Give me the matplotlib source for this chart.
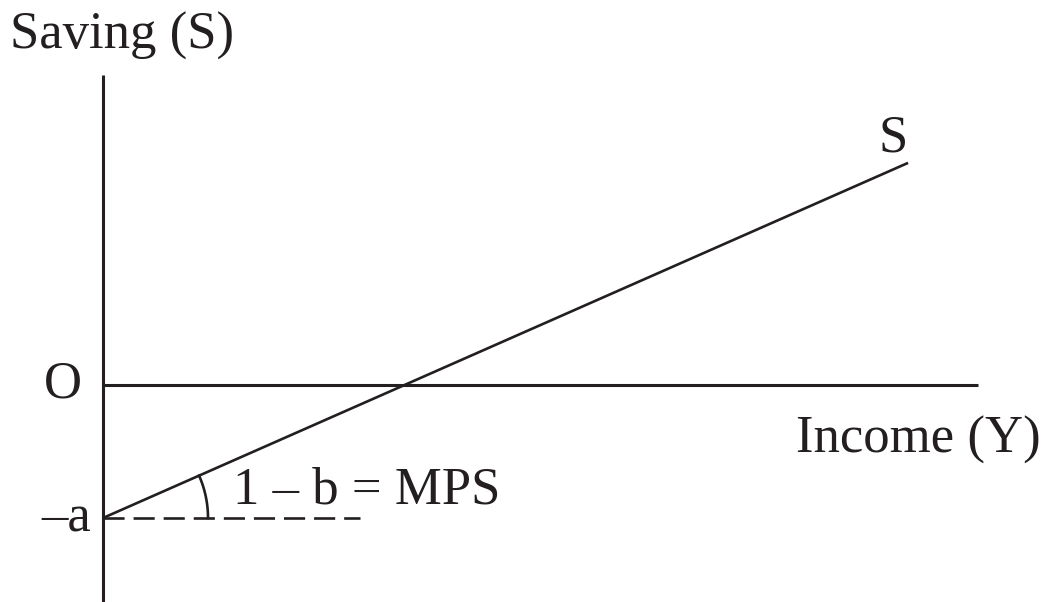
import numpy as np
import matplotlib.pyplot as plt

# Saving function S = -a + (1 - b) * Y
a = 2.0
mps = 0.4
income = [0.0, 13.35]
saving = [-a + mps * y for y in income]

ink = "#231f20"
plt.rcParams["font.family"] = ["Liberation Serif", "DejaVu Serif"]

fig = plt.figure(figsize=(10.48, 6.02), dpi=100)
ax = fig.add_axes([0, 0, 1, 1])
ax.set_xlim(-1.708, 15.67)
ax.set_ylim(-3.263, 5.789)
ax.axis("off")

# axes
ax.plot([0, 14.51], [0, 0], color=ink, lw=2.2, solid_capstyle="butt")
ax.plot([0, 0], [-3.3, 4.66], color=ink, lw=2.2, solid_capstyle="butt")

# saving line
ax.plot(income, saving, color=ink, lw=1.9, solid_capstyle="butt")

# horizontal reference at -a
ax.plot([0, 4.26], [-a, -a], color=ink, lw=1.9, ls=(0, (8.0, 3.4)))

# angle arc at the intercept, drawn in pixel space so it stays circular
trans = ax.transData
x0, y0 = trans.transform((0, -a))
x1, y1 = trans.transform((1, -a + mps))
theta = np.arctan2(y1 - y0, x1 - x0)
r = 105
t = np.linspace(0, theta, 50)
pts = np.column_stack([x0 + r * np.cos(t), y0 + r * np.sin(t)])
arc = trans.inverted().transform(pts)
ax.plot(arc[:, 0], arc[:, 1], color=ink, lw=1.9)

fs = 38
ax.text(-1.55, 5.25, "Saving (S)", fontsize=fs, color=ink, va="center", ha="left")
ax.text(-0.35, 0, "O", fontsize=fs, color=ink, va="center", ha="right")
ax.text(-0.2, -2.0, "–a", fontsize=fs, color=ink, va="center", ha="right")
ax.text(13.1, 3.7, "S", fontsize=fs, color=ink, va="center", ha="center")
ax.text(15.55, -0.82, "Income (Y)", fontsize=fs, color=ink, va="center", ha="right")
ax.text(2.15, -1.58, "1 – b = MPS", fontsize=fs, color=ink, va="center", ha="left")

fig.savefig("out.png", dpi=100)
